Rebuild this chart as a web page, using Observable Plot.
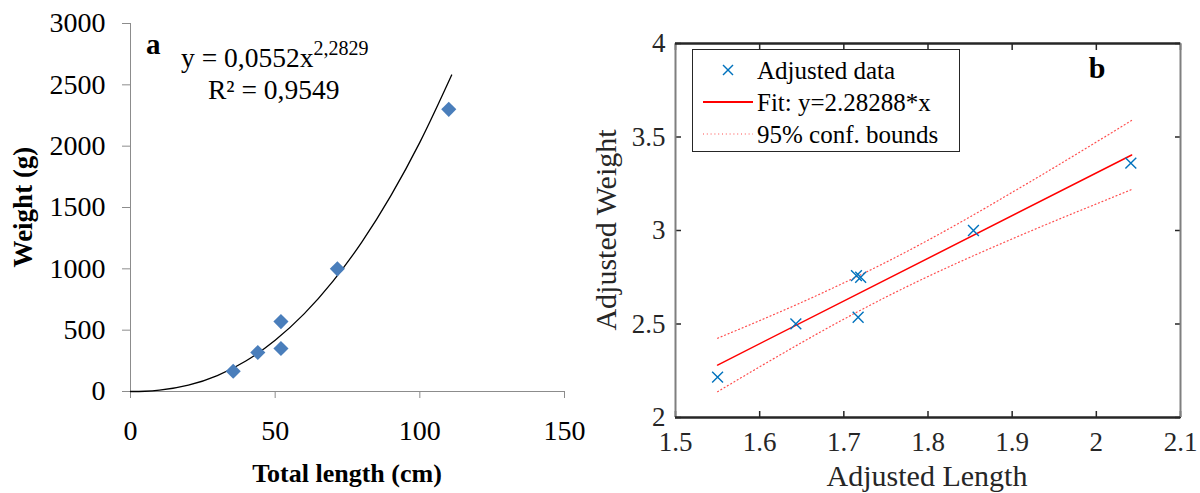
<!DOCTYPE html>
<html><head><meta charset="utf-8">
<script src="https://cdn.jsdelivr.net/npm/d3@7"></script>
<script src="https://cdn.jsdelivr.net/npm/@observablehq/plot@0.6"></script>
<style>
body{margin:0;background:#fff;}
#wrap{position:relative;width:1200px;height:493px;overflow:hidden;font-family:"Liberation Serif","Times New Roman",serif;}
.panel{position:absolute;top:0;width:600px;height:493px;}
.panel svg text{font-family:"Liberation Serif","Times New Roman",serif;}
.t{position:absolute;white-space:nowrap;line-height:1;}
</style></head><body>
<div id="wrap">
  <div id="pa" class="panel" style="left:0"></div>
  <div id="pb" class="panel" style="left:600px"></div>
</div>
<script>
// ---------- Panel a data ----------
const lengthCm = [35.5, 44, 52, 52, 71.5, 110];
const weightG  = [165, 318, 570, 350, 1000, 2300];
// trend line
const trendX = [0, 5, 10, 20, 30, 40, 50, 60, 70, 80, 90, 100, 111];
const trendY = [0, 2.2, 10.6, 51.5, 130, 251, 418, 633, 900, 1220, 1597, 2031, 2580];
const aTicksX = [0, 50, 100, 150];
const aTicksY = [0, 500, 1000, 1500, 2000, 2500, 3000];

// ---------- Panel b data ----------
const adjLength = [1.550, 1.643, 1.715, 1.720, 1.717, 1.854, 2.041];
const adjWeight = [2.216, 2.501, 2.759, 2.750, 2.536, 3.000, 3.360];
const fitX = [1.55, 2.042];
const fitY = [2.2805, 3.4036];
const boundX = [1.55, 1.6, 1.65, 1.7, 1.75, 1.8, 1.85, 1.9, 1.95, 2.0, 2.042];
const upperY = [2.424, 2.518, 2.616, 2.720, 2.830, 2.948, 3.073, 3.204, 3.337, 3.473, 3.589];
const lowerY = [2.138, 2.271, 2.401, 2.526, 2.644, 2.754, 2.857, 2.955, 3.050, 3.142, 3.219];
const bTicksX = [1.5, 1.6, 1.7, 1.8, 1.9, 2, 2.1];
const bTicksY = [2, 2.5, 3, 3.5, 4];

const ptsA = lengthCm.map((x, i) => ({x, y: weightG[i]}));
const trend = trendX.map((x, i) => ({x, y: trendY[i]}));
const ptsB = adjLength.map((x, i) => ({x, y: adjWeight[i]}));
const fit = fitX.map((x, i) => ({x, y: fitY[i]}));
const up = boundX.map((x, i) => ({x, y: upperY[i]}));
const lo = boundX.map((x, i) => ({x, y: lowerY[i]}));

const serif = "'Liberation Serif', 'Times New Roman', serif";
const plain = d => String(d);

const a = Plot.plot({
  width: 600, height: 493,
  marginLeft: 130, marginRight: 36, marginTop: 23, marginBottom: 102,
  style: {fontFamily: serif, fontSize: "28px", color: "#000", background: "transparent", overflow: "visible"},
  x: {domain: [0, 150]},
  y: {domain: [0, 3000]},
  marks: [
    Plot.ruleX([0], {stroke: "#8c8c8c"}),
    Plot.ruleY([0], {stroke: "#8c8c8c"}),
    Plot.axisY(aTicksY, {tickSize: 8, tickPadding: 17, tickFormat: plain, stroke: "#8c8c8c", fill: "#000", fontSize: 28, fontFamily: serif, label: null}),
    Plot.axisX(aTicksX, {tickSize: 7, tickPadding: 22, tickFormat: plain, stroke: "#8c8c8c", fill: "#000", fontSize: 28, fontFamily: serif, label: null}),
    Plot.line(trend, {x: "x", y: "y", stroke: "#000", strokeWidth: 1.3, curve: "monotone-x"}),
    Plot.dot(ptsA, {x: "x", y: "y", symbol: "diamond2", r: 6.8, fill: "#4a7ebb", stroke: "none"})
  ]
});
document.getElementById("pa").appendChild(a);

const b = Plot.plot({
  width: 600, height: 493,
  marginLeft: 75, marginRight: 20, marginTop: 43, marginBottom: 76,
  style: {fontFamily: serif, fontSize: "27px", color: "#262626", background: "transparent", overflow: "visible"},
  x: {domain: [1.5, 2.1]},
  y: {domain: [2, 4]},
  marks: [
    Plot.line(up, {x: "x", y: "y", stroke: "#ff0000", strokeWidth: 1.2, strokeDasharray: "1,2.8", strokeOpacity: 0.7, curve: "monotone-x"}),
    Plot.line(lo, {x: "x", y: "y", stroke: "#ff0000", strokeWidth: 1.2, strokeDasharray: "1,2.8", strokeOpacity: 0.7, curve: "monotone-x"}),
    Plot.line(fit, {x: "x", y: "y", stroke: "#ff0000", strokeWidth: 1.5}),
    Plot.dot(ptsB, {x: "x", y: "y", symbol: "times", r: 5, stroke: "#0072bd", strokeWidth: 1.4}),
    Plot.axisX(bTicksX, {anchor: "bottom", tickSize: -6, tickFormat: () => "", stroke: "#262626", strokeWidth: 1.5, label: null}),
    Plot.axisX(bTicksX, {anchor: "top", tickSize: -6, tickFormat: () => "", stroke: "#262626", strokeWidth: 1.5, label: null}),
    Plot.axisY(bTicksY, {anchor: "left", tickSize: -6, tickFormat: () => "", stroke: "#262626", strokeWidth: 1.5, label: null}),
    Plot.axisY(bTicksY, {anchor: "right", tickSize: -6, tickFormat: () => "", stroke: "#262626", strokeWidth: 1.5, label: null}),
    Plot.axisX(bTicksX, {anchor: "bottom", tickSize: 0, tickPadding: 14, tickFormat: plain, fill: "#262626", fontSize: 27, fontFamily: serif, label: null}),
    Plot.axisY(bTicksY, {anchor: "left", tickSize: 0, tickPadding: 10, tickFormat: plain, fill: "#262626", fontSize: 27, fontFamily: serif, label: null}),
    Plot.ruleX([1.5, 2.1], {stroke: "#7f7f7f", strokeWidth: 2}),
    Plot.ruleY([2, 4], {stroke: "#262626", strokeWidth: 2.5})
  ]
});
document.getElementById("pb").appendChild(b);

// ---------- texts ----------
const wrap = document.getElementById("wrap");
function addText(html, css) {
  const d = document.createElement("div");
  d.className = "t";
  d.innerHTML = html;
  Object.assign(d.style, css);
  wrap.appendChild(d);
  return d;
}
// panel a
addText("a", {left: "146px", top: "30px", fontSize: "29px", fontWeight: "bold"});
addText('y = 0,0552x<sup style="font-size:20px;vertical-align:0;position:relative;top:-12px">2,2829</sup>', {left: "181px", top: "44px", fontSize: "27.5px"});
addText("R² = 0,9549", {left: "208px", top: "76px", fontSize: "27.5px"});
addText("Weight (g)", {left: "23px", top: "207px", fontSize: "27px", fontWeight: "bold", transform: "translate(-50%,-50%) rotate(-90deg)"});
addText("Total length (cm)", {left: "347px", top: "474px", fontSize: "26px", fontWeight: "bold", transform: "translate(-50%,-50%)"});
// panel b
addText("b", {left: "1097px", top: "68px", fontSize: "30px", fontWeight: "bold", transform: "translate(-50%,-50%)"});
addText("Adjusted Length", {left: "927px", top: "476px", fontSize: "30px", color: "#262626", transform: "translate(-50%,-50%)"});
addText("Adjusted Weight", {left: "606px", top: "230px", fontSize: "30px", color: "#262626", transform: "translate(-50%,-50%) rotate(-90deg)"});

// legend
const leg = document.createElement("div");
Object.assign(leg.style, {position: "absolute", left: "692px", top: "49px", width: "268px", height: "103px",
  border: "1.3px solid #262626", background: "#fff", boxSizing: "border-box"});
leg.innerHTML = `
<svg width="268" height="103" style="position:absolute;left:0;top:0">
  <g stroke="#0072bd" stroke-width="1.4"><line x1="30" y1="15" x2="40" y2="25"/><line x1="30" y1="25" x2="40" y2="15"/></g>
  <line x1="10" y1="52" x2="60" y2="52" stroke="#ff0000" stroke-width="2"/>
  <line x1="10" y1="84" x2="60" y2="84" stroke="#ff0000" stroke-width="1.2" stroke-dasharray="1,2.8" stroke-opacity="0.7"/>
</svg>`;
wrap.appendChild(leg);
const legItems = ["Adjusted data", "Fit: y=2.28288*x", "95% conf. bounds"];
legItems.forEach((s, i) => {
  addText(s, {left: "757px", top: (70 + i * 32) + "px", fontSize: "25px", color: "#000", transform: "translateY(-50%)"});
});
</script>
</body></html>
